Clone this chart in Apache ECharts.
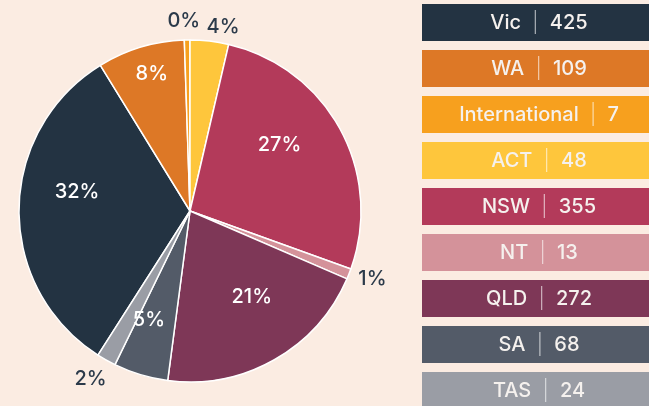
<!DOCTYPE html>
<html>
<head>
<meta charset="utf-8">
<script src="https://cdn.jsdelivr.net/npm/echarts@6/dist/echarts.min.js"></script>
<style>
  html, body { margin: 0; padding: 0; background: #fbece2; }
  #chart { width: 649px; height: 406px; }
</style>
</head>
<body>
<div id="chart"></div>
<script>
// regions and counts
const regions = ["Vic", "WA", "International", "ACT", "NSW", "NT", "QLD", "SA", "TAS"];
const counts = [425, 109, 7, 48, 355, 13, 272, 68, 24];
const colors = ["#233342", "#dd7826", "#f7a01e", "#fec63c", "#b33a5a", "#d4929a", "#7e3757", "#535b68", "#9a9da5"];

const center = [190, 211];
const startAngle = 237.43;
const font = "Inter, Roboto, sans-serif";

// small hand nudges so the % labels sit where the original put them
const labelNudge = {
  Vic: [-2, -18], NSW: [-8, -13], QLD: [7, -11], SA: [-9, 3], WA: [3, 0],
  International: [-3, 3], ACT: [11, 8], NT: [3, -3], TAS: [-5, 0]
};

// which ring each percent label sits on (radius in px)
function labelRadius(name, value) {
  const share = value / counts.reduce((a, b) => a + b, 0);
  if (share < 0.05) return 190;
  if (name === "WA") return 140;
  return 108;
}

const pieData = regions.map((r, i) => ({
  name: r,
  value: counts[i],
  itemStyle: { color: colors[i] }
}));

// transparent rings only used to place the labels
function labelRing(r, textColor) {
  return {
    type: "pie",
    silent: true,
    animation: false,
    center: center,
    radius: [r - 10, r + 10],
    startAngle: startAngle,
    percentPrecision: 0,
    avoidLabelOverlap: false,
    itemStyle: { color: "transparent", borderWidth: 0 },
    emphasis: { disabled: true },
    labelLine: { show: false },
    labelLayout: function (p) {
      const n = labelNudge[regions[p.dataIndex]] || [0, 0];
      return { dx: n[0], dy: n[1], hideOverlap: false };
    },
    data: regions.map((name, i) => ({
      name: name,
      value: counts[i],
      label: {
        show: labelRadius(name, counts[i]) === r,
        position: "inside",
        formatter: "{d}%",
        color: textColor,
        fontSize: 20,
        fontWeight: 500,
        fontFamily: font
      }
    }))
  };
}

const graphic = [];
regions.forEach((r, i) => {
  const y = 4 + i * 46;
  graphic.push({
    type: "rect",
    silent: true,
    shape: { x: 422, y: y, width: 240, height: 37 },
    style: { fill: colors[i] }
  });
  graphic.push({
    type: "text",
    silent: true,
    x: 539,
    y: y + 19,
    style: {
      text: "{n|" + r + "}{s|  |  }{n|" + counts[i] + "}",
      align: "center",
      verticalAlign: "middle",
      rich: {
        n: { fontSize: 20, fontFamily: font, fontWeight: 500, fill: "#f5f1ee" },
        s: { fontSize: 20, fontFamily: font, fontWeight: 300, fill: "rgba(255,255,255,0.6)" }
      }
    }
  });
});

const chart = echarts.init(document.getElementById("chart"));
chart.setOption({
  backgroundColor: "#fbece2",
  animation: false,
  graphic: graphic,
  series: [
    {
      type: "pie",
      center: center,
      radius: [0, 171],
      startAngle: startAngle,
      percentPrecision: 0,
      label: { show: false },
      labelLine: { show: false },
      itemStyle: { borderColor: "#ffffff", borderWidth: 1.5 },
      emphasis: { scale: false },
      data: pieData
    },
    labelRing(108, "#ffffff"),
    labelRing(140, "#ffffff"),
    labelRing(190, "#2b3a4a")
  ]
});
</script>
</body>
</html>
